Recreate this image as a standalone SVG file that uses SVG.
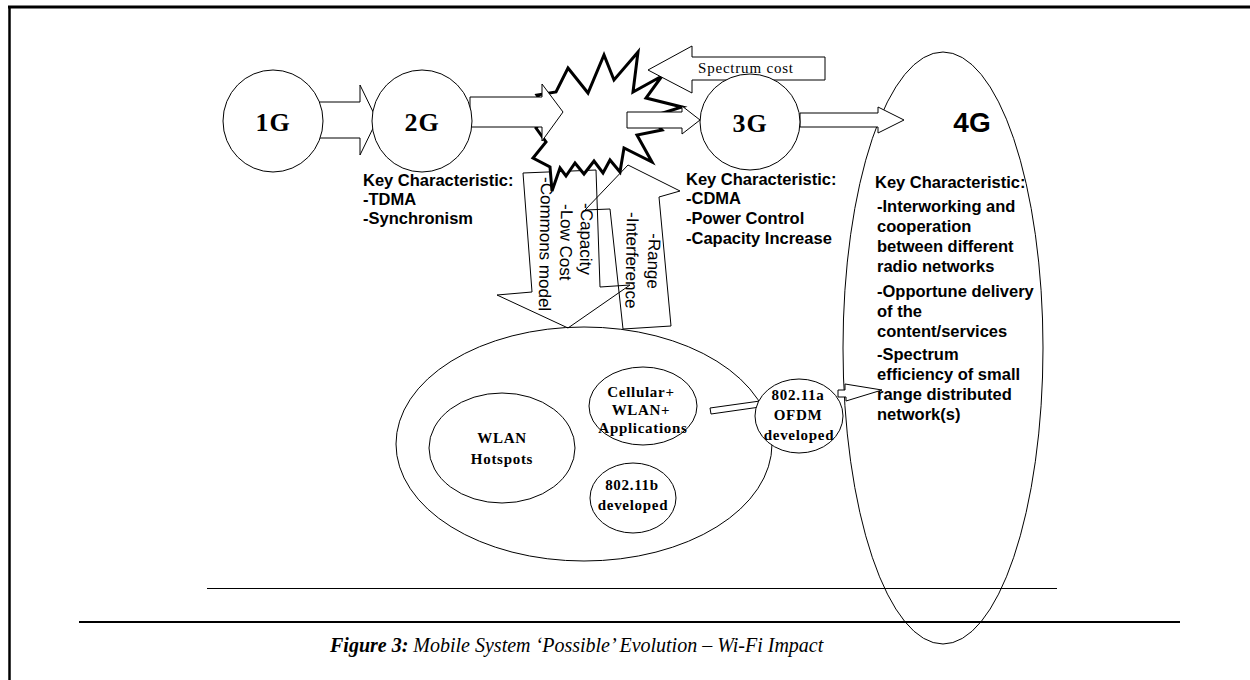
<svg xmlns="http://www.w3.org/2000/svg" width="1250" height="680" viewBox="0 0 1250 680">
<style>
.ln{fill:none;stroke:#000;stroke-width:1}
.wf{fill:#fff;stroke:#000;stroke-width:1}
.ser{font-family:"Liberation Serif","Times New Roman",serif;font-weight:bold;fill:#000}
.big{font-size:26px;letter-spacing:1px}
.sm{font-size:15px;letter-spacing:0.7px}
.san{font-family:"Liberation Sans",Arial,sans-serif;font-weight:bold;font-size:16.5px;fill:#000}
.rot{font-family:"Liberation Sans",Arial,sans-serif;font-size:17px;fill:#000}
.cap{font-family:"Liberation Serif","Times New Roman",serif;font-style:italic;font-size:20px;fill:#000}
</style>
<rect x="0" y="0" width="1250" height="680" fill="#fff"/>
<g id="frame">
<line x1="8" y1="7" x2="1250" y2="7" stroke="#000" stroke-width="3"/>
<line x1="9.5" y1="6" x2="9.5" y2="680" stroke="#000" stroke-width="2.5"/>
</g>

<g id="node-4g">
<ellipse class="wf" cx="943" cy="348" rx="100" ry="296"/>
<text class="san" x="972" y="132" text-anchor="middle" style="font-size:28px">4G</text>
<text class="san" x="875" y="188">Key Characteristic:</text>
<text class="san" x="877" y="212">-Interworking and</text>
<text class="san" x="877" y="232">cooperation</text>
<text class="san" x="877" y="252">between different</text>
<text class="san" x="877" y="272">radio networks</text>
<text class="san" x="877" y="297">-Opportune delivery</text>
<text class="san" x="877" y="317">of the</text>
<text class="san" x="877" y="337">content/services</text>
<text class="san" x="877" y="360">-Spectrum</text>
<text class="san" x="877" y="380">efficiency of small</text>
<text class="san" x="877" y="400">range distributed</text>
<text class="san" x="877" y="420">network(s)</text>
</g>

<g id="node-wlan-area">
<ellipse class="wf" cx="584" cy="444" rx="188" ry="117"/>
</g>

<g id="connectors">
<path class="wf" d="M312,102 L360,102 L360,85 L377,120 L360,155 L360,138 L312,138 Z"/>
<path class="wf" d="M800,113 L878,113 L878,107 L904,120 L878,133 L878,127 L800,127 Z"/>
<path class="ln" d="M523,173 L596,170 L600,287 L630,285 L568,328 L497,295 L532,292 Z"/>
<path class="wf" d="M710,408 L760,401 L760,407 L711,414 Z"/>
<path class="wf" d="M838,390 L845,390 L845,384 L882,390 L846,401 L846,397 L838,397 Z"/>
</g>

<g id="node-burst">
<polygon points="568,68 588,93 604,55 614,80 638,52 633,92 662,76 646,98 682,107 650,117 662,130 637,135 652,162 624,148 620,172 610,160 603,173 594,161 584,174 575,163 566,176 560,168 552,191 550,167 533,158 546,142 536,128 548,112 537,95 556,92" fill="#fff" stroke="#000" stroke-width="3" stroke-linejoin="miter"/>
</g>

<g id="connectors-2">
<path class="wf" d="M470,97 L542,97 L542,84 L563,112 L542,141 L542,127 L470,127 Z"/>
<path class="wf" d="M627,112 L682,112 L682,106 L700,120 L682,134 L682,128 L627,128 Z"/>
<path class="ln" d="M628,165 L680,191 L659,197 L671,326 L623,329 L610,209 L585,210 Z"/>
<path class="wf" d="M648,70 L692,46 L692,57 L825,57 L825,80 L692,80 L692,93 Z"/>
<text x="698" y="73" style="font-family:'Liberation Serif','Times New Roman',serif;font-size:15px;letter-spacing:0.8px">Spectrum cost</text>
</g>

<g id="arrow-texts">
<text class="rot" transform="translate(541,177) rotate(91)">-Commons model</text>
<text class="rot" transform="translate(561,204) rotate(91)">-Low Cost</text>
<text class="rot" transform="translate(581,203) rotate(91)">-Capacity</text>
<text class="rot" transform="translate(627,212) rotate(91)">-Interference</text>
<text class="rot" transform="translate(649,233) rotate(92)">-Range</text>
</g>

<g id="node-1g">
<ellipse class="wf" cx="273" cy="121" rx="50" ry="51"/>
<text class="ser big" x="273" y="131" text-anchor="middle">1G</text>
</g>
<g id="node-2g">
<ellipse class="wf" cx="422" cy="121" rx="50" ry="51"/>
<text class="ser big" x="422" y="131" text-anchor="middle">2G</text>
<text class="san" x="363" y="186">Key Characteristic:</text>
<text class="san" x="363" y="205">-TDMA</text>
<text class="san" x="363" y="224">-Synchronism</text>
</g>
<g id="node-3g">
<ellipse class="wf" cx="750" cy="122" rx="50" ry="48"/>
<text class="ser big" x="750" y="132" text-anchor="middle">3G</text>
<text class="san" x="686" y="185">Key Characteristic:</text>
<text class="san" x="686" y="204">-CDMA</text>
<text class="san" x="686" y="224">-Power Control</text>
<text class="san" x="686" y="244">-Capacity Increase</text>
</g>

<g id="node-hotspots">
<ellipse class="wf" cx="502" cy="448" rx="73" ry="55"/>
<text class="ser sm" x="502" y="443" text-anchor="middle">WLAN</text>
<text class="ser sm" x="502" y="464" text-anchor="middle">Hotspots</text>
</g>
<g id="node-cellular">
<ellipse class="wf" cx="643" cy="406" rx="54" ry="39"/>
<text class="ser sm" x="641" y="397" text-anchor="middle">Cellular+</text>
<text class="ser sm" x="641" y="415" text-anchor="middle">WLAN+</text>
<text class="ser sm" x="643" y="433" text-anchor="middle">Applications</text>
</g>
<g id="node-80211b">
<ellipse class="wf" cx="633" cy="498" rx="43" ry="35"/>
<text class="ser sm" x="632" y="490" text-anchor="middle">802.11b</text>
<text class="ser sm" x="633" y="510" text-anchor="middle">developed</text>
</g>
<g id="node-80211a">
<ellipse class="wf" cx="799" cy="416" rx="44" ry="37"/>
<text class="ser sm" x="798" y="400" text-anchor="middle">802.11a</text>
<text class="ser sm" x="798" y="420" text-anchor="middle">OFDM</text>
<text class="ser sm" x="799" y="440" text-anchor="middle">developed</text>
</g>

<g id="footer">
<line x1="207" y1="588.5" x2="1057" y2="588.5" stroke="#000" stroke-width="1"/>
<line x1="79" y1="622" x2="1180" y2="622" stroke="#000" stroke-width="2"/>
<text class="cap" x="330" y="652"><tspan font-weight="bold">Figure 3:</tspan> Mobile System ‘Possible’ Evolution – Wi-Fi Impact</text>
</g>
</svg>
